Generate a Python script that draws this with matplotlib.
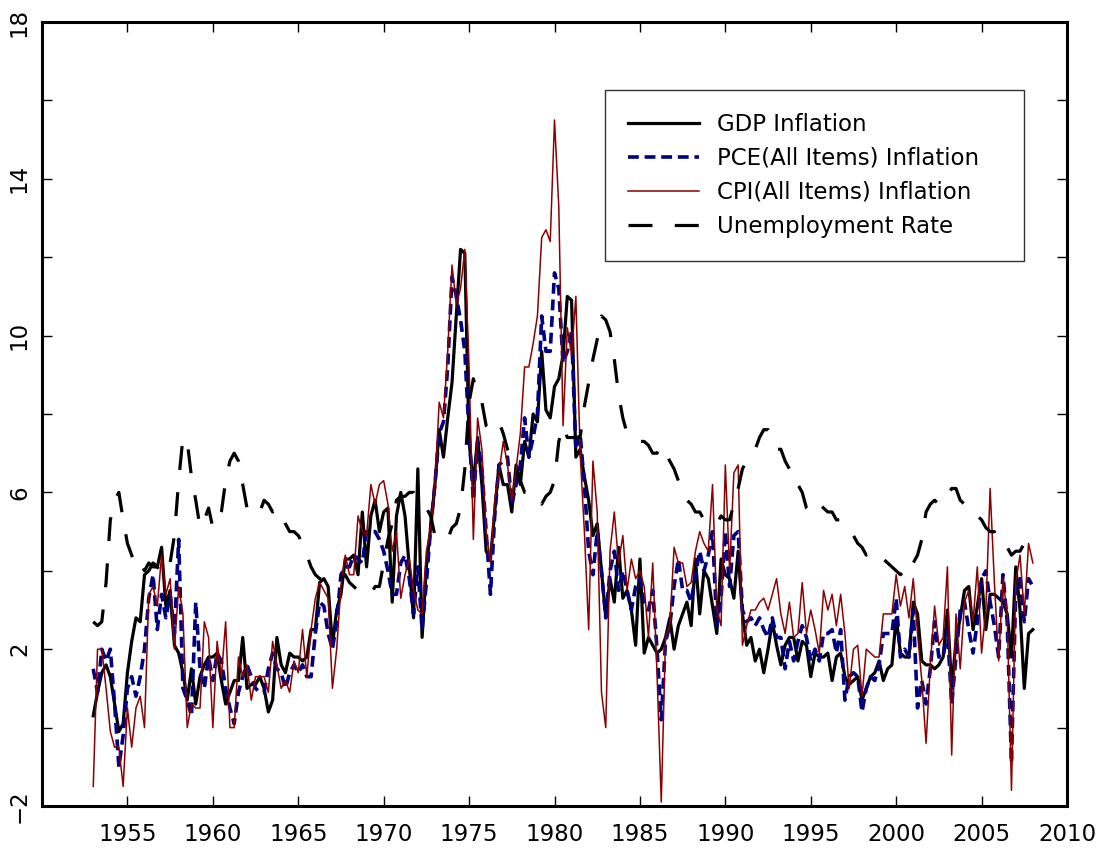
import numpy as np
import matplotlib
matplotlib.use("Agg")
import matplotlib.pyplot as plt
from matplotlib.ticker import FixedLocator, FuncFormatter

# ---------------- data (quarterly, 1953Q1 .. 2008Q1) ----------------
start_year = 1953
gdp_inflation = [
    0.3, 0.9, 1.4, 1.6,   1.3, 0.6, -0.1, 0.1,   1.4, 2.2, 2.8, 2.7,   3.9, 4.0, 4.2, 4.1,
    4.6, 3.1, 3.5, 2.1,   1.9, 1.4, 0.7, 1.5,   0.6, 1.3, 1.6, 1.8,   1.8, 1.9, 1.2, 0.6,
    0.9, 1.2, 1.2, 2.3,   1.0, 1.1, 1.1, 1.3,   1.0, 0.4, 0.7, 2.3,   1.6, 1.4, 1.9, 1.8,
    1.8, 1.7, 1.8, 2.5,   2.5, 3.7, 3.8, 3.6,   2.1, 3.0, 3.4, 4.3,   4.3, 4.4, 3.9, 5.5,
    4.1, 5.4, 5.8, 5.0,   5.5, 5.6, 3.2, 5.4,   6.0, 5.4, 4.1, 2.8,   6.6, 2.3, 4.1, 5.1,
    6.2, 7.6, 6.9, 7.9,   8.8, 10.5, 12.2, 12.1, 7.3, 6.2, 7.4, 6.2,  4.5, 4.3, 5.5, 6.7,
    6.2, 6.2, 5.5, 6.7,   6.2, 7.3, 6.9, 8.0,   7.8, 9.6, 8.1, 7.9,   8.7, 8.9, 9.5, 11.0,
    10.9, 6.9, 7.1, 6.4,  5.8, 4.9, 5.2, 4.0,   2.8, 3.8, 3.2, 4.6,   3.3, 3.5, 3.0, 2.1,
    4.3, 1.9, 2.3, 2.1,   1.9, 2.0, 2.3, 2.8,   2.0, 2.6, 2.9, 3.2,   2.6, 4.3, 2.9, 4.0,
    3.8, 3.1, 2.4, 4.3,   3.9, 3.8, 3.3, 4.5,   2.9, 2.1, 2.3, 1.7,   2.0, 1.4, 2.0, 2.7,
    2.1, 1.6, 2.1, 2.3,   2.3, 1.7, 2.2, 2.1,   1.3, 1.9, 1.8, 1.8,   1.9, 1.2, 1.8, 1.9,
    1.3, 1.1, 1.2, 1.3,   0.7, 1.0, 1.3, 1.4,   1.7, 1.2, 1.5, 1.6,   2.8, 1.9, 1.8, 1.8,
    3.2, 2.9, 1.7, 1.6,   1.6, 1.5, 1.6, 1.8,   3.0, 1.0, 2.2, 2.8,   3.5, 3.6, 2.5, 3.1,
    3.8, 2.5, 3.4, 3.4,   3.3, 3.2, 2.9, 1.8,   4.1, 3.0, 1.0, 2.4,   2.5,
]
pce_inflation = [
    1.5, 0.9, 2.0, 1.7,   2.0, 0.6, -1.0, -0.2,  1.0, 1.3, 0.8, 1.3,   2.0, 3.3, 3.9, 2.5,
    3.4, 2.8, 3.4, 2.4,   4.8, 1.0, 0.7, 0.3,   3.2, 1.5, 1.0, 1.8,   1.2, 1.9, 1.7, 1.0,
    0.5, 0.1, 0.9, 1.3,   1.6, 1.3, 1.0, 0.9,   0.9, 1.5, 1.9, 1.5,   1.4, 1.0, 1.4, 1.6,
    1.4, 1.6, 1.3, 1.3,   2.4, 3.2, 3.1, 2.4,   2.0, 2.7, 3.9, 4.1,   4.1, 4.4, 4.3, 4.2,
    5.0, 5.0, 5.0, 4.8,   4.5, 4.0, 3.4, 3.4,   4.2, 4.4, 3.8, 2.9,   4.1, 2.5, 3.7, 5.1,
    6.2, 7.5, 7.8, 9.2,   11.5, 11.0, 10.4, 9.6, 7.5, 5.8, 7.3, 6.6,  5.0, 3.4, 5.4, 6.7,
    6.8, 6.9, 5.7, 6.2,   6.7, 7.9, 6.9, 7.4,   8.0, 10.5, 9.6, 9.6,  11.6, 11.2, 9.3, 9.6,
    10.1, 7.1, 7.5, 6.2,  4.5, 3.9, 5.0, 4.0,   2.8, 4.0, 4.5, 3.5,   4.0, 3.5, 3.0, 3.6,
    3.8, 3.2, 3.0, 3.5,   2.0, 0.2, 2.2, 2.6,   3.6, 4.3, 3.5, 3.5,   3.2, 3.9, 4.5, 4.0,
    4.4, 5.0, 2.6, 3.3,   5.0, 3.6, 4.9, 5.0,   3.0, 2.7, 2.8, 2.6,   2.8, 2.5, 2.3, 2.8,
    2.3, 2.3, 1.5, 2.2,   1.7, 2.2, 2.6, 2.3,   1.7, 2.0, 1.7, 2.4,   2.4, 2.5, 1.9, 2.5,
    0.7, 1.3, 1.4, 1.3,   0.4, 1.0, 1.3, 1.2,   1.6, 2.4, 2.4, 2.4,   3.3, 1.8, 2.0, 1.8,
    3.0, 0.5, 1.2, 0.6,   1.5, 2.7, 1.8, 1.8,   2.5, 0.6, 1.8, 3.0,   3.2, 2.5, 1.9, 2.7,
    3.8, 4.0, 3.2, 2.6,   1.8, 3.9, 2.7, -0.9,  3.5, 3.8, 2.7, 3.8,   3.6,
]
cpi_inflation = [
    -1.5, 2.0, 2.0, 1.0,  -0.1, -0.5, -0.5, -1.5, 0.5, -0.5, 0.5, 0.8,  0.0, 3.4, 3.6, 3.1,
    4.4, 3.4, 3.8, 2.0,   3.6, 2.9, 0.0, 0.6,   0.5, 0.5, 2.7, 2.3,   0.0, 2.2, 1.3, 2.7,
    0.0, 0.0, 1.8, 1.3,   1.6, 0.7, 1.3, 1.3,   1.3, 0.9, 2.2, 1.6,   1.0, 1.2, 0.9, 1.7,
    1.4, 2.5, 1.3, 2.5,   3.3, 3.7, 3.5, 3.3,   1.0, 2.0, 3.6, 4.4,   3.9, 3.9, 5.4, 5.0,
    4.9, 6.2, 5.7, 6.2,   6.3, 5.7, 4.5, 5.0,   3.3, 3.9, 4.3, 3.5,   3.0, 2.9, 4.5, 5.1,
    6.2, 8.3, 7.9, 9.6,   11.8, 10.8, 11.2, 12.2, 9.2, 4.8, 7.9, 7.1,  5.0, 4.2, 5.8, 6.5,
    7.3, 6.7, 5.8, 6.6,   7.5, 9.2, 9.2, 9.8,   10.5, 12.5, 12.7, 12.4, 15.5, 13.3, 7.7, 10.2,
    9.5, 11.0, 7.0, 5.0,  2.5, 6.8, 5.5, 0.9,   0.0, 4.5, 5.5, 4.2,   4.9, 3.5, 4.3, 3.8,
    4.0, 3.6, 2.3, 4.2,   1.4, -1.9, 2.3, 2.6,  4.6, 4.2, 4.2, 3.6,   3.7, 4.5, 5.0, 4.7,
    4.5, 6.2, 3.0, 2.6,   6.7, 4.0, 6.5, 6.7,   2.1, 2.6, 3.0, 3.0,   3.2, 3.3, 3.0, 3.4,
    3.8, 2.9, 2.4, 3.2,   2.3, 2.4, 3.7, 2.4,   3.0, 2.5, 1.9, 3.5,   3.0, 3.4, 2.6, 3.4,
    2.4, 1.0, 2.0, 2.1,   0.8, 2.0, 1.9, 1.8,   1.8, 2.9, 2.9, 2.9,   3.9, 3.1, 3.6, 2.8,
    3.8, 2.4, 1.2, -0.4,  1.6, 3.1, 2.1, 2.3,   4.1, -0.7, 2.9, 1.5,  3.2, 3.5, 2.7, 4.1,
    1.9, 3.0, 6.1, 3.7,   1.7, 3.8, 2.9, -1.6,  3.7, 4.4, 2.9, 4.7,   4.2,
]
unemployment_rate = [
    2.7, 2.6, 2.7, 3.7,   5.3, 5.8, 6.0, 5.3,   4.7, 4.4, 4.1, 4.2,   4.0, 4.2, 4.1, 4.1,
    3.9, 4.1, 4.2, 4.9,   6.3, 7.4, 7.3, 6.4,   5.8, 5.1, 5.3, 5.6,   5.1, 5.2, 5.5, 6.3,
    6.8, 7.0, 6.8, 6.2,   5.6, 5.5, 5.6, 5.5,   5.8, 5.7, 5.5, 5.6,   5.5, 5.2, 5.0, 5.0,
    4.9, 4.7, 4.4, 4.1,   3.9, 3.8, 3.8, 3.7,   3.8, 3.8, 3.8, 3.9,   3.7, 3.6, 3.5, 3.4,
    3.4, 3.4, 3.6, 3.6,   4.2, 4.8, 5.2, 5.8,   5.9, 5.9, 6.0, 6.0,   5.8, 5.7, 5.6, 5.4,
    4.9, 4.9, 4.8, 4.8,   5.1, 5.2, 5.6, 6.6,   8.3, 8.9, 8.5, 8.3,   7.7, 7.6, 7.7, 7.8,
    7.5, 7.1, 6.9, 6.7,   6.3, 6.0, 6.0, 5.9,   5.9, 5.7, 5.9, 6.0,   6.3, 7.3, 7.7, 7.4,
    7.4, 7.4, 7.4, 8.2,   8.8, 9.4, 9.9, 10.5,  10.4, 10.1, 9.4, 8.5,  7.9, 7.5, 7.4, 7.3,
    7.3, 7.3, 7.2, 7.0,   7.0, 7.2, 7.0, 6.8,   6.6, 6.3, 6.0, 5.8,   5.7, 5.5, 5.5, 5.3,
    5.2, 5.2, 5.2, 5.4,   5.3, 5.3, 5.7, 6.1,   6.6, 6.8, 6.9, 7.1,   7.4, 7.6, 7.6, 7.4,
    7.1, 7.1, 6.8, 6.6,   6.6, 6.2, 6.0, 5.6,   5.5, 5.7, 5.7, 5.6,   5.5, 5.5, 5.3, 5.3,
    5.2, 5.0, 4.9, 4.7,   4.6, 4.4, 4.5, 4.4,   4.3, 4.3, 4.2, 4.1,   4.0, 3.9, 4.0, 3.9,
    4.2, 4.4, 4.8, 5.5,   5.7, 5.8, 5.7, 5.9,   5.9, 6.1, 6.1, 5.8,   5.7, 5.6, 5.4, 5.4,
    5.3, 5.1, 5.0, 5.0,   4.7, 4.6, 4.6, 4.4,   4.5, 4.5, 4.7, 4.8,   4.9,
]
series_labels = ["GDP Inflation", "PCE(All Items) Inflation",
                 "CPI(All Items) Inflation", "Unemployment Rate"]
x_tick_years = [1950, 1955, 1960, 1965, 1970, 1975, 1980, 1985, 1990, 1995, 2000, 2005, 2010]
x_tick_labels = ["", "1955", "1960", "1965", "1970", "1975", "1980", "1985",
                 "1990", "1995", "2000", "2005", "2010"]
y_ticks = [-2, 0, 2, 4, 6, 8, 10, 12, 14, 16, 18]
y_labeled = [-2, 2, 6, 10, 14, 18]

# ---------------- figure ----------------
W, H = 1106, 850
fig = plt.figure(figsize=(W / 100, H / 100), dpi=100)
ax = fig.add_axes([42 / W, 1 - 806 / H, (1067 - 42) / W, (806 - 22) / H])

n = len(gdp_inflation)
t = start_year + np.arange(n) / 4.0

ax.plot(t, gdp_inflation, color="black", lw=2.3, label=series_labels[0], zorder=2)
ax.plot(t, pce_inflation, color="#000080", lw=2.6, dashes=(3.0, 1.6), label=series_labels[1], zorder=3)
ax.plot(t, cpi_inflation, color="#8B0000", lw=1.1, label=series_labels[2], zorder=4)
ax.plot(t[:len(unemployment_rate)], unemployment_rate, color="black", lw=2.3,
        dashes=(7.5, 7.0), label=series_labels[3], zorder=5)

ax.set_xlim(1950, 2010)
ax.set_ylim(-2, 18)

ax.xaxis.set_major_locator(FixedLocator(x_tick_years))
ax.set_xticklabels(x_tick_labels)
ax.yaxis.set_major_locator(FixedLocator(y_ticks))
ax.yaxis.set_major_formatter(FuncFormatter(
    lambda v, p: (("\u2212" if v < 0 else "") + "%d" % abs(v)) if int(round(v)) in y_labeled else ""))

ax.tick_params(axis="both", which="major", direction="in", length=7.5, width=1.0,
               top=True, right=True, labelsize=16.5, colors="black")
ax.tick_params(axis="x", pad=12)
ax.tick_params(axis="y", pad=8)
for lab in ax.get_yticklabels():
    lab.set_rotation(90)
    lab.set_va("center")

for s in ax.spines.values():
    s.set_linewidth(2.2)

leg = ax.legend(loc="upper left",
                bbox_to_anchor=(605 / W, 1 - 257 / H, (1024 - 605) / W, (257 - 90) / H),
                bbox_transform=fig.transFigure, mode="expand", fontsize=16.5, frameon=True,
                fancybox=False, edgecolor="black", handlelength=3.1,
                handletextpad=0.8, labelspacing=0.48, borderpad=1.0,
                borderaxespad=0)
leg.get_frame().set_linewidth(1.0)

fig.savefig("out.png", dpi=100, facecolor="white")
